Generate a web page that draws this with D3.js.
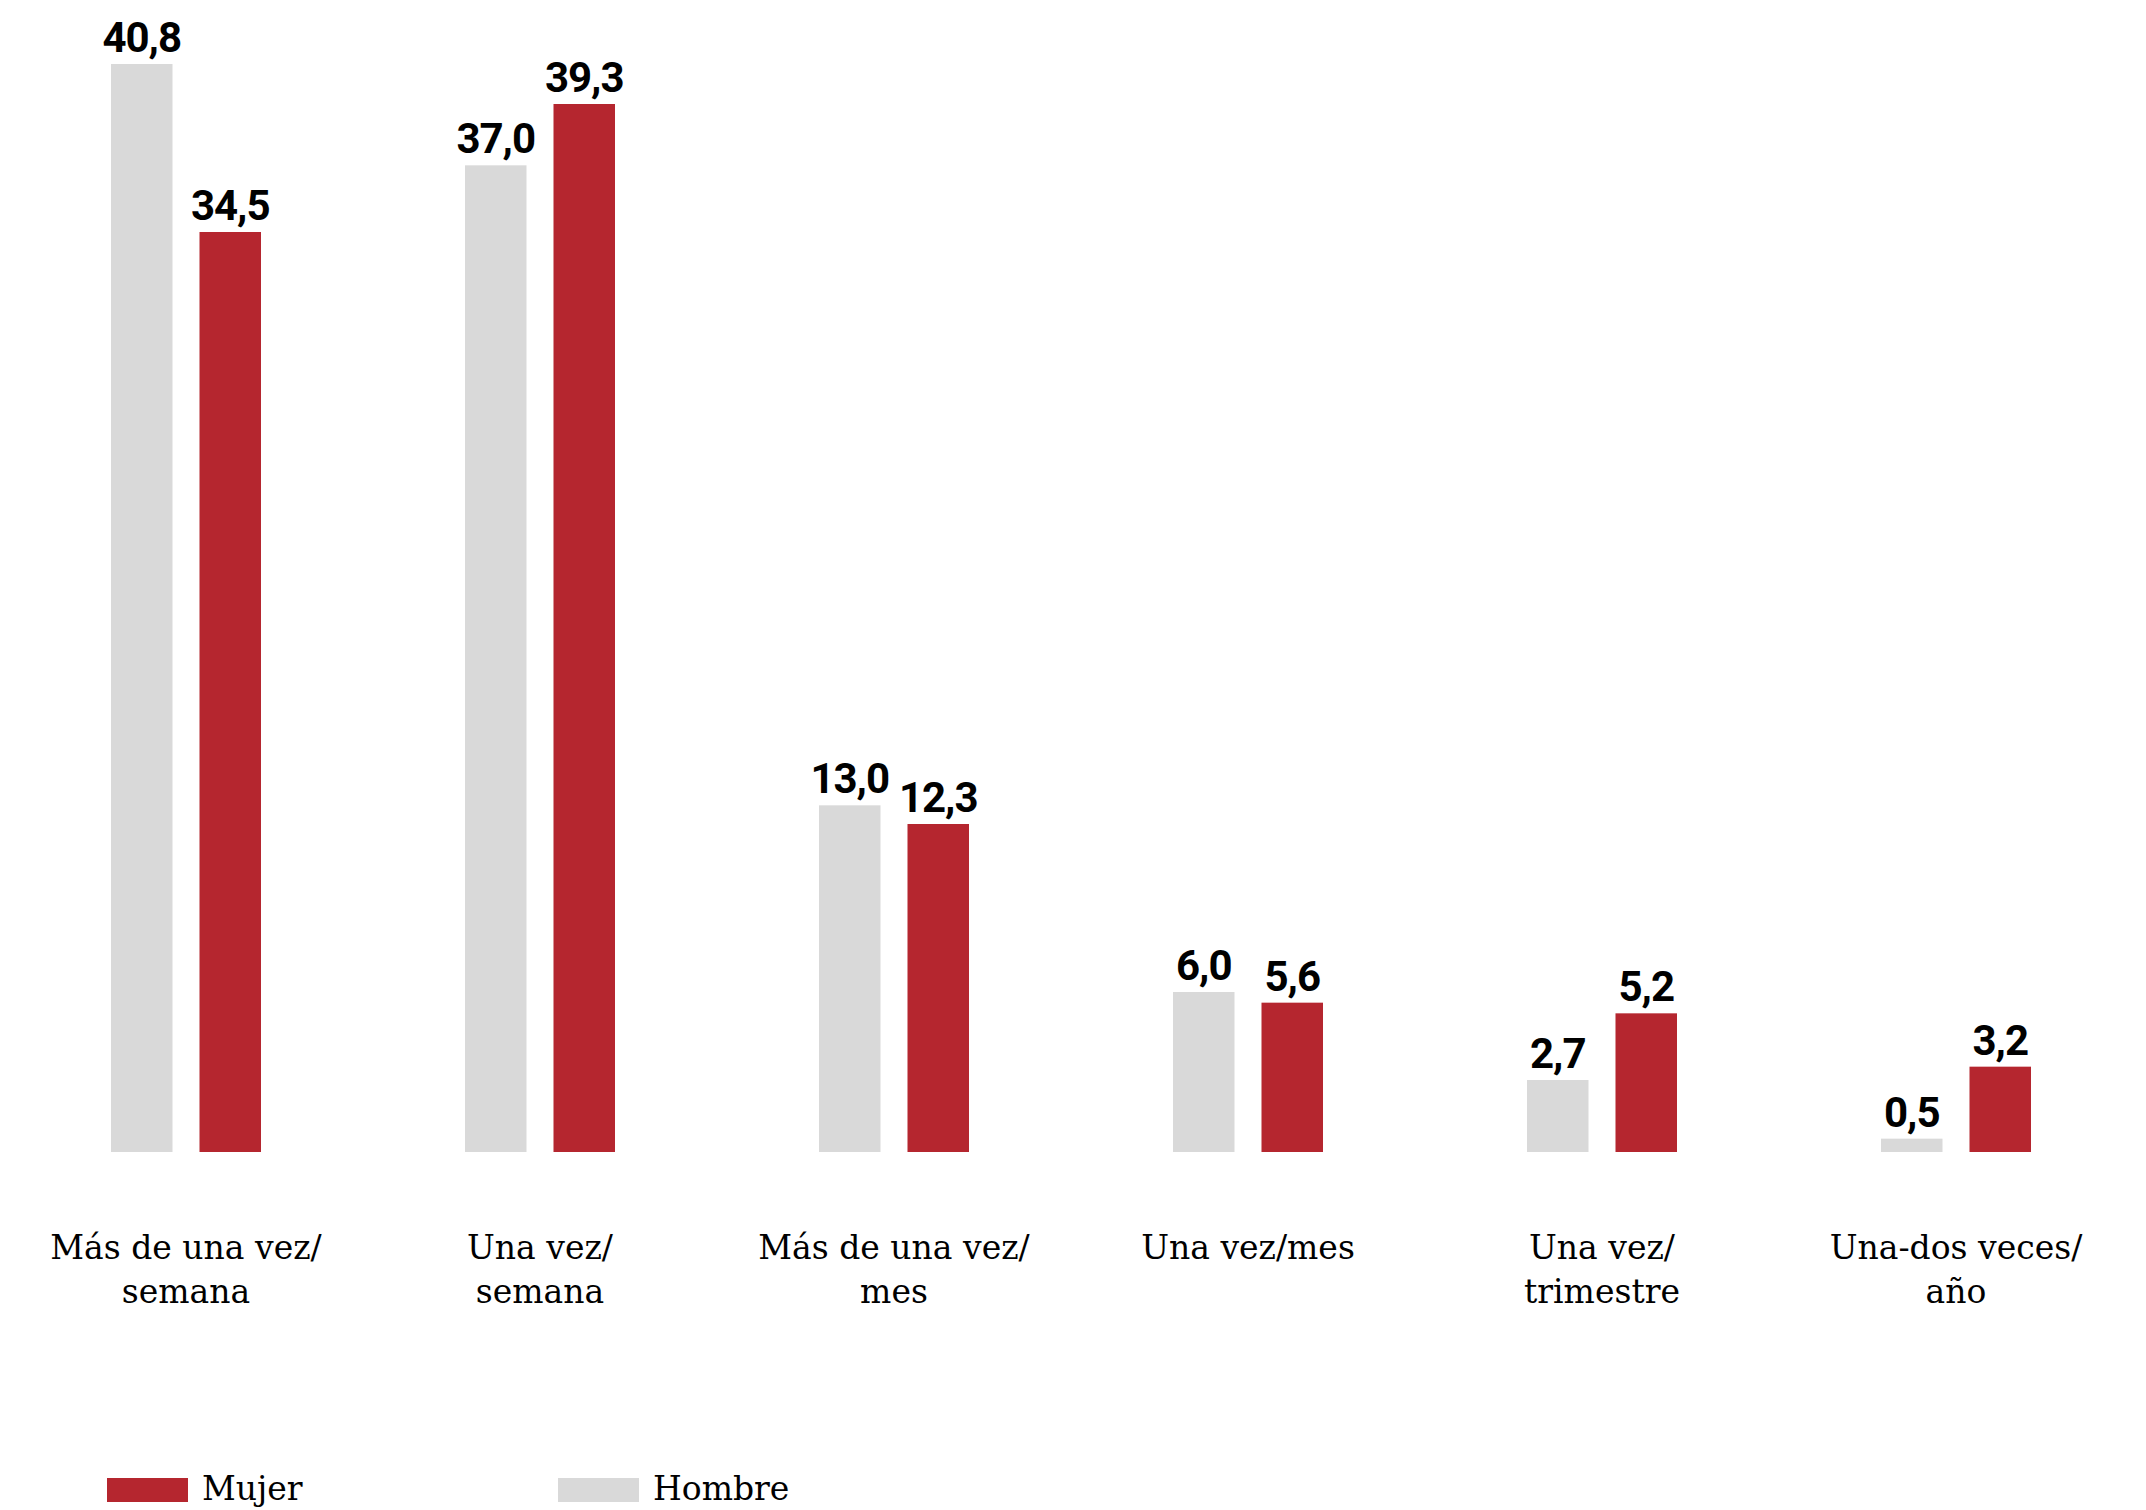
<!DOCTYPE html>
<html>
<head>
<meta charset="utf-8">
<script src="https://cdn.jsdelivr.net/npm/d3@7"></script>
<style>
  html, body { margin: 0; padding: 0; background: #fff; }
  svg { display: block; }
</style>
</head>
<body>
<svg id="chart" width="2146" height="1510"></svg>
<script>
// Data
var categories = [
  ["Más de una vez/", "semana"],
  ["Una vez/", "semana"],
  ["Más de una vez/", "mes"],
  ["Una vez/mes"],
  ["Una vez/", "trimestre"],
  ["Una-dos veces/", "año"]
];
var hombre = [40.8, 37.0, 13.0, 6.0, 2.7, 0.5];
var mujer = [34.5, 39.3, 12.3, 5.6, 5.2, 3.2];
var seriesNames = ["Hombre", "Mujer"];
var seriesColors = {"Hombre": "#d9d9d9", "Mujer": "#b5262f"};

var svg = d3.select("#chart");

var catKeys = categories.map(function(d, i) { return i; });
var x = d3.scaleBand()
  .domain(catKeys)
  .range([9, 2133])
  .paddingInner(0);

var xInner = d3.scaleBand()
  .domain(seriesNames)
  .range([-75, 75])
  .paddingInner(0.305);

var y = d3.scaleLinear()
  .domain([0, 40.8])
  .range([1152, 64]);

var fmt = function(v) { return d3.format(".1f")(v).replace(".", ","); };

var rows = [];
catKeys.forEach(function(i) {
  rows.push({cat: i, series: "Hombre", value: hombre[i]});
  rows.push({cat: i, series: "Mujer", value: mujer[i]});
});

var group = svg.append("g");

group.selectAll("rect.bar")
  .data(rows)
  .enter().append("rect")
    .attr("class", "bar")
    .attr("x", function(d) { return x(d.cat) + x.bandwidth() / 2 + xInner(d.series); })
    .attr("y", function(d) { return y(d.value); })
    .attr("width", xInner.bandwidth())
    .attr("height", function(d) { return y(0) - y(d.value); })
    .attr("fill", function(d) { return seriesColors[d.series]; });

group.selectAll("text.value")
  .data(rows)
  .enter().append("text")
    .attr("class", "value")
    .attr("x", function(d) { return x(d.cat) + x.bandwidth() / 2 + xInner(d.series) + xInner.bandwidth() / 2; })
    .attr("y", function(d) { return y(d.value) - 12; })
    .attr("text-anchor", "middle")
    .attr("font-family", "Roboto, sans-serif")
    .attr("font-weight", "bold")
    .attr("font-size", 42)
    .attr("letter-spacing", -1)
    .attr("fill", "#000")
    .text(function(d) { return fmt(d.value); });

// Category labels
var labels = group.selectAll("text.cat")
  .data(categories)
  .enter().append("text")
    .attr("class", "cat")
    .attr("text-anchor", "middle")
    .attr("font-family", "'DejaVu Serif', 'Liberation Serif', serif")
    .attr("font-size", 33)
    .attr("fill", "#000");

labels.selectAll("tspan")
  .data(function(d, i) { return d.map(function(t) { return {t: t, i: i}; }); })
  .enter().append("tspan")
    .attr("x", function(d) { return x(d.i) + x.bandwidth() / 2; })
    .attr("y", function(d, j) { return 1259 + j * 44; })
    .text(function(d) { return d.t; });

// Legend
var legendItems = ["Mujer", "Hombre"];
var legendX = d3.scalePoint().domain(legendItems).range([107, 558]);
var legend = svg.append("g").selectAll("g")
  .data(legendItems)
  .enter().append("g")
    .attr("transform", function(d) { return "translate(" + legendX(d) + ",0)"; });

legend.append("rect")
  .attr("x", 0)
  .attr("y", 1478)
  .attr("width", 81)
  .attr("height", 24)
  .attr("fill", function(d) { return seriesColors[d]; });

legend.append("text")
  .attr("x", 95)
  .attr("y", 1500)
  .attr("font-family", "'DejaVu Serif', 'Liberation Serif', serif")
  .attr("font-size", 33)
  .attr("fill", "#000")
  .text(function(d) { return d; });
</script>
</body>
</html>
